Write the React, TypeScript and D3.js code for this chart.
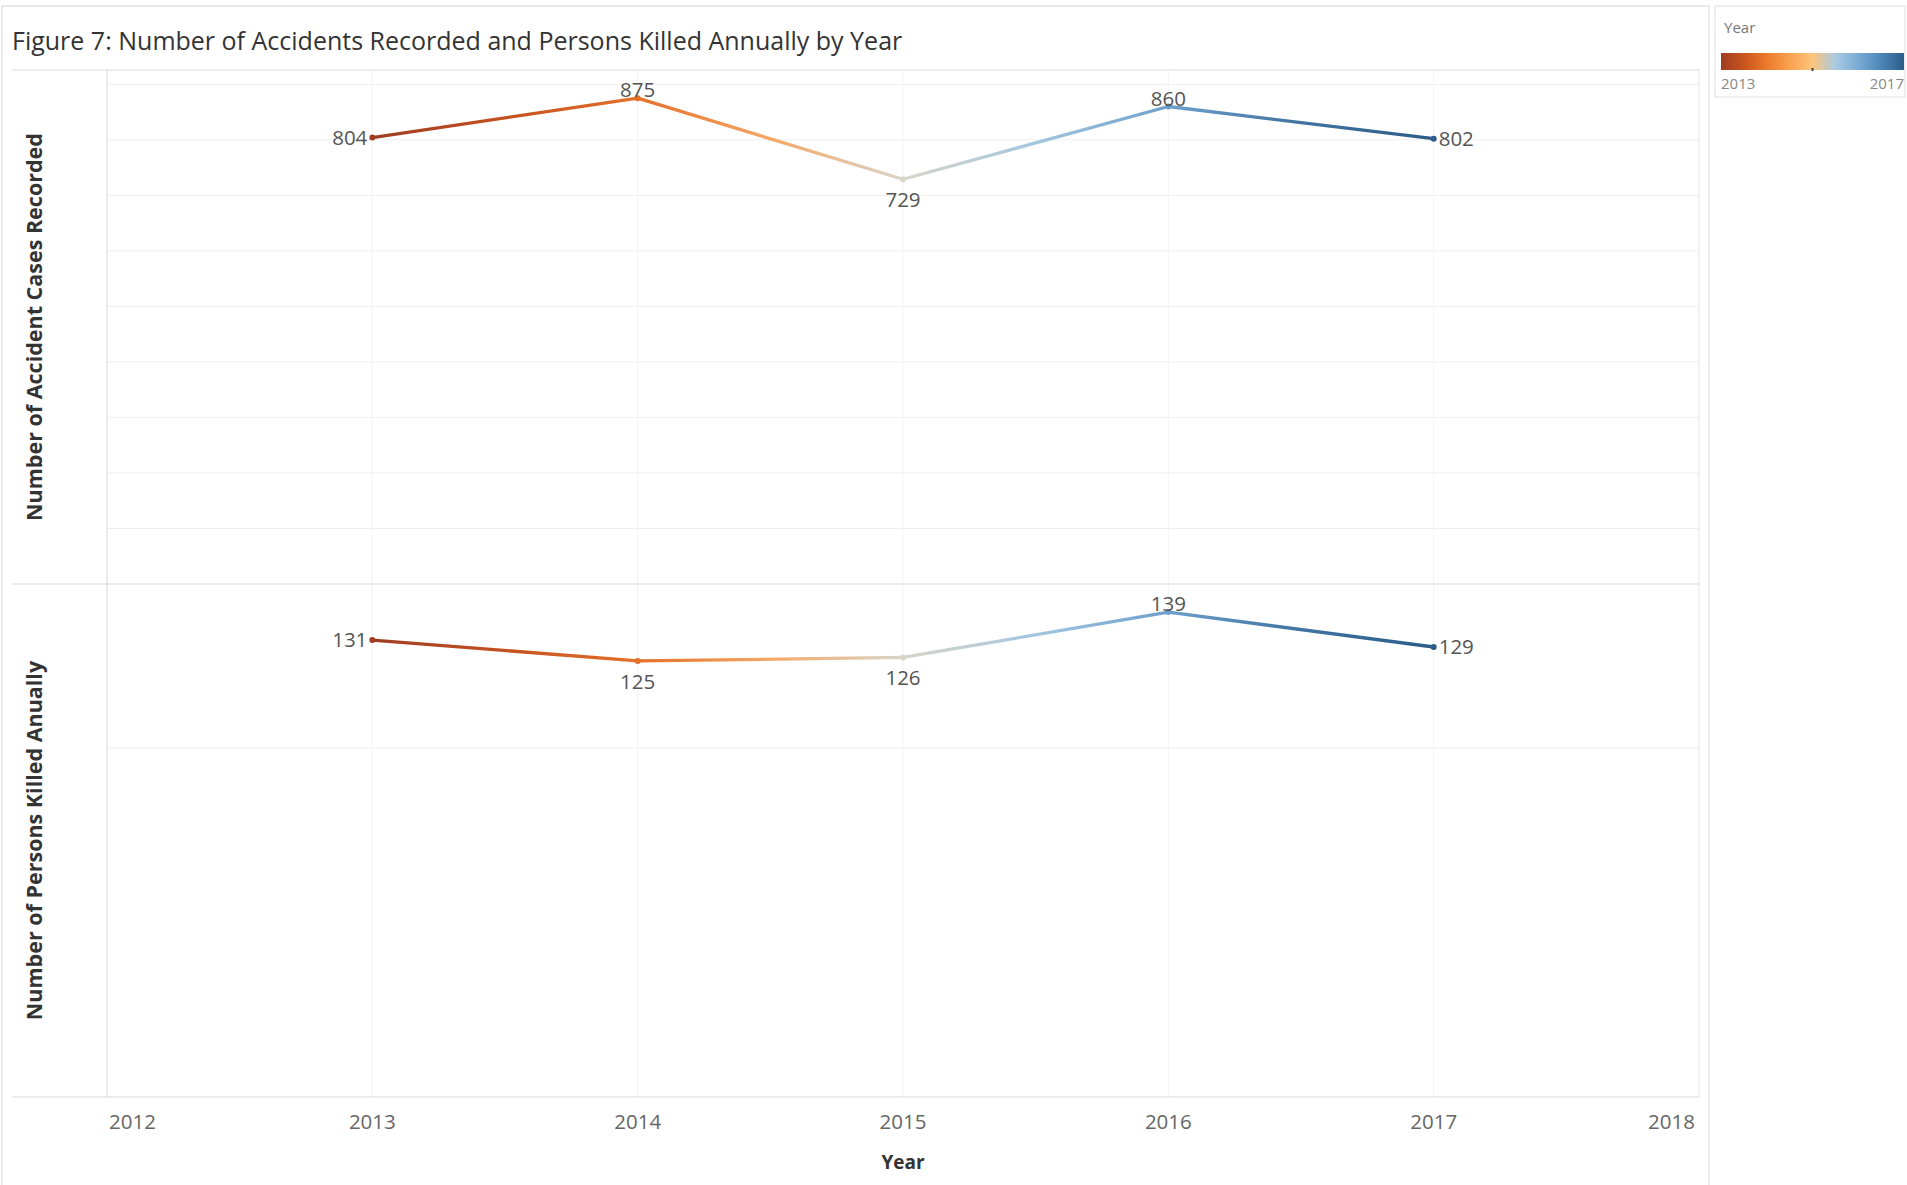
import * as d3 from "d3";

// data
const years = [2013, 2014, 2015, 2016, 2017];
const accidents = [804, 875, 729, 860, 802];
const killed = [131, 125, 126, 139, 129];
const axisYears = [2012, 2013, 2014, 2015, 2016, 2017, 2018];

// Tableau "Orange-Blue Diverging" ramp
const palette = [
  "#9e3d22",
  "#c4511f",
  "#e4702a",
  "#f4a866",
  "#d9d5c9",
  "#a3c6e0",
  "#6c9fcb",
  "#40739f",
  "#2b5c8a",
];
const legendStops = [
  "#9e3d22",
  "#c9531e",
  "#ec7a2c",
  "#f9a24f",
  "#fdc47c",
  "#a9cbe2",
  "#79acd4",
  "#4d86b8",
  "#2b5c8a",
];

// where each value label sits relative to its point
const accidentLabelPos = ["left", "above", "below", "above", "right"];
const killedLabelPos = ["left", "below", "below", "above", "right"];

const W = 1907;
const H = 1185;
const plotLeft = 107;
const plotRight = 1699;
const topY0 = 70;
const midY = 584;
const botY1 = 1097;
const headroom = 1.058; // Tableau pads the axis above the max value

const font = "'Open Sans', 'DejaVu Sans', sans-serif";

function Panel({
  values,
  y,
  labelPos,
  id,
  x,
  color,
}: {
  values: number[];
  y: d3.ScaleLinear<number, number>;
  labelPos: string[];
  id: string;
  x: d3.ScaleLinear<number, number>;
  color: (v: number) => string;
}) {
  const pts = years.map((yr, i) => ({ yr, v: values[i], px: x(yr), py: y(values[i]) }));
  const grid = d3.range(100, y.domain()[1], 100);
  return (
    <g>
      <g>
        {grid.map((t) => (
          <line
            key={t}
            x1={plotLeft}
            x2={plotRight}
            y1={y(t)}
            y2={y(t)}
            stroke="#efefef"
            strokeWidth={1}
          />
        ))}
      </g>
      <defs>
        {pts.slice(0, -1).map((p, i) => {
          const q = pts[i + 1];
          return (
            <linearGradient
              key={i}
              id={`${id}-g${i}`}
              gradientUnits="userSpaceOnUse"
              x1={p.px}
              y1={0}
              x2={q.px}
              y2={0}
            >
              {[0, 0.25, 0.5, 0.75, 1].map((f) => (
                <stop
                  key={f}
                  offset={f}
                  stopColor={color(p.yr + f * (q.yr - p.yr))}
                />
              ))}
            </linearGradient>
          );
        })}
      </defs>
      {pts.slice(0, -1).map((p, i) => {
        const q = pts[i + 1];
        return (
          <path
            key={i}
            d={d3.line()([
              [p.px, p.py],
              [q.px, q.py],
            ]) ?? ""}
            stroke={`url(#${id}-g${i})`}
            strokeWidth={3.3}
            strokeLinecap="round"
            fill="none"
          />
        );
      })}
      {pts.map((p) => (
        <circle key={p.yr} cx={p.px} cy={p.py} r={3} fill={color(p.yr)} />
      ))}
      {pts.map((p, i) => {
        const pos = labelPos[i];
        let tx = p.px;
        let ty = p.py;
        let anchor: "start" | "middle" | "end" = "middle";
        if (pos === "left") {
          tx = p.px - 5;
          ty = p.py + 7;
          anchor = "end";
        } else if (pos === "right") {
          tx = p.px + 5;
          ty = p.py + 7;
          anchor = "start";
        } else if (pos === "above") {
          ty = p.py - 1;
        } else {
          ty = p.py + 28;
        }
        return (
          <text
            key={p.yr}
            x={tx}
            y={ty}
            textAnchor={anchor}
            fontSize={20.5}
            fill="#555"
            fontFamily={font}
          >
            {p.v}
          </text>
        );
      })}
    </g>
  );
}

export default function App() {
  const x = d3.scaleLinear().domain([2012, 2018]).range([plotLeft, plotRight]);
  const yTop = d3
    .scaleLinear()
    .domain([0, (d3.max(accidents) ?? 0) * headroom])
    .range([midY, topY0]);
  const yBot = d3
    .scaleLinear()
    .domain([0, (d3.max(killed) ?? 0) * headroom])
    .range([botY1, midY]);

  const color = d3
    .scaleLinear<string>()
    .domain(d3.range(palette.length).map((i) => 2013 + (i * 4) / (palette.length - 1)))
    .range(palette)
    .interpolate(d3.interpolateRgb)
    .clamp(true);

  const legendX0 = 1721;
  const legendX1 = 1904;

  return (
    <svg
      width={W}
      height={H}
      style={{ position: "absolute", left: 0, top: 0, background: "#fff" }}
      fontFamily={font}
    >
      {/* worksheet frame */}
      <rect x={2} y={6} width={1707} height={H} fill="none" stroke="#d6d6d6" />

      <text x={12} y={50} fontSize={25} fill="#333">
        Figure 7: Number of Accidents Recorded and Persons Killed Annually by Year
      </text>

      {/* vertical year gridlines */}
      {years.map((yr) => (
        <line
          key={yr}
          x1={x(yr)}
          x2={x(yr)}
          y1={topY0}
          y2={botY1}
          stroke="#f2f2f2"
        />
      ))}

      <Panel values={accidents} y={yTop} labelPos={accidentLabelPos} id="acc" x={x} color={color} />
      <Panel values={killed} y={yBot} labelPos={killedLabelPos} id="kil" x={x} color={color} />

      {/* pane borders */}
      <line x1={12} x2={plotRight} y1={topY0} y2={topY0} stroke="#d9d9d9" />
      <line x1={12} x2={plotRight} y1={midY} y2={midY} stroke="#d9d9d9" />
      <line x1={12} x2={plotRight} y1={botY1} y2={botY1} stroke="#d9d9d9" />
      <line x1={plotLeft} x2={plotLeft} y1={topY0} y2={botY1} stroke="#d9d9d9" />
      <line x1={plotRight} x2={plotRight} y1={topY0} y2={botY1} stroke="#e6e6e6" />

      {/* row titles */}
      <text
        transform={`translate(33,${(topY0 + midY) / 2}) rotate(-90)`}
        textAnchor="middle"
        dominantBaseline="central"
        fontSize={21.5}
        fontWeight="bold"
        fill="#333"
      >
        Number of Accident Cases Recorded
      </text>
      <text
        transform={`translate(33,${(midY + botY1) / 2}) rotate(-90)`}
        textAnchor="middle"
        dominantBaseline="central"
        fontSize={21.5}
        fontWeight="bold"
        fill="#333"
      >
        Number of Persons Killed Anually
      </text>

      {/* x axis */}
      {axisYears.map((yr, i) => (
        <text
          key={yr}
          x={i === 0 ? x(yr) + 2 : i === axisYears.length - 1 ? x(yr) - 4 : x(yr)}
          y={1129}
          textAnchor={i === 0 ? "start" : i === axisYears.length - 1 ? "end" : "middle"}
          fontSize={20.5}
          fill="#666"
        >
          {yr}
        </text>
      ))}
      <text x={(plotLeft + plotRight) / 2} y={1169} textAnchor="middle" fontSize={19} fontWeight="bold" fill="#333">
        Year
      </text>

      {/* legend */}
      <defs>
        <linearGradient id="legend-grad" x1="0" x2="1" y1="0" y2="0">
          {legendStops.map((c, i) => (
            <stop key={i} offset={i / (legendStops.length - 1)} stopColor={c} />
          ))}
        </linearGradient>
      </defs>
      <rect x={1715} y={6} width={190} height={91} fill="#fff" stroke="#e0e0e0" />
      <text x={1724} y={33} fontSize={15} fill="#777">
        Year
      </text>
      <rect x={legendX0} y={53} width={legendX1 - legendX0} height={17} fill="url(#legend-grad)" />
      <rect x={(legendX0 + legendX1) / 2 - 1} y={68} width={2} height={3} fill="#444" />
      <text x={legendX0} y={89} fontSize={15} fill="#888">
        2013
      </text>
      <text x={legendX1} y={89} fontSize={15} fill="#888" textAnchor="end">
        2017
      </text>
    </svg>
  );
}
